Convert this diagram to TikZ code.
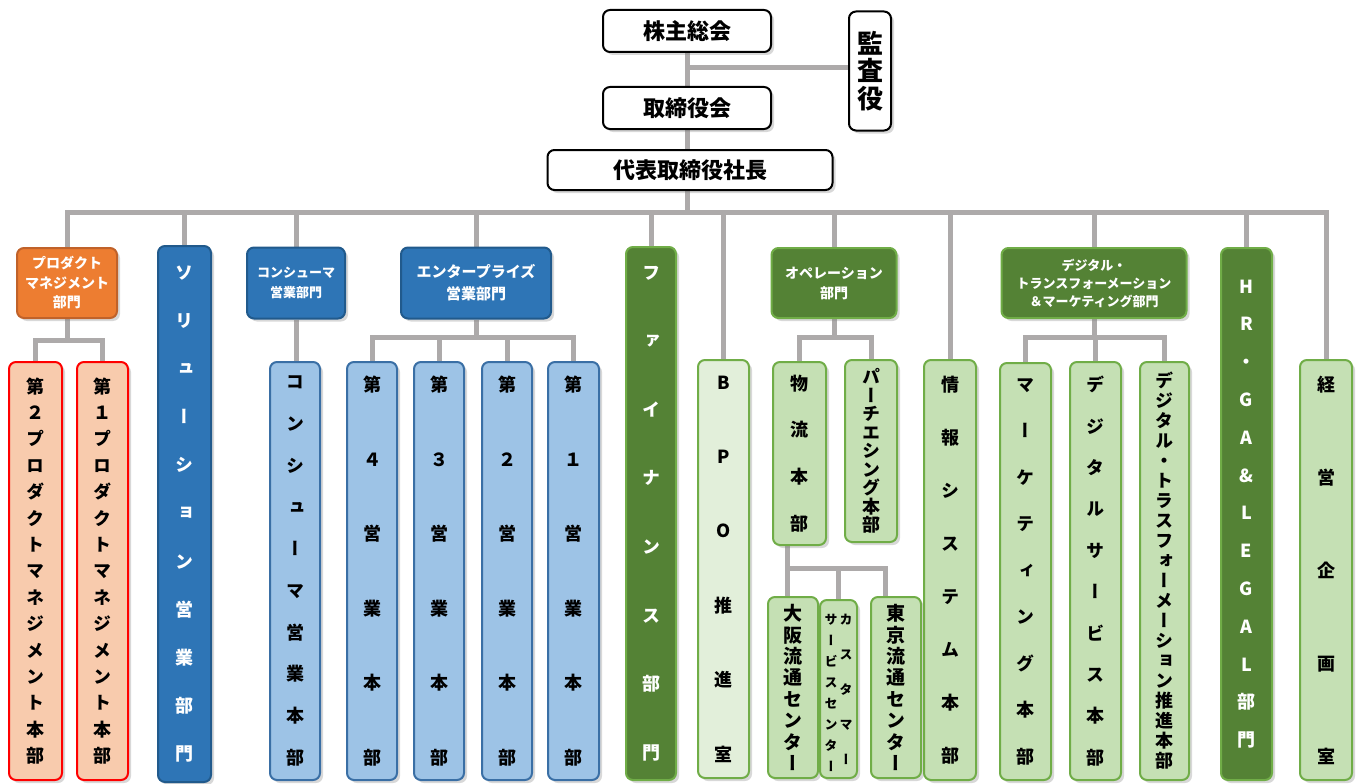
\documentclass[tikz,border=0pt]{standalone}
\usepackage{fontspec}
\usepackage{graphicx}
\setmainfont{Noto Sans CJK JP}
\newfontfamily\vfont{Noto Sans CJK JP}[RawFeature={+vert}]
\usetikzlibrary{positioning,shadows,backgrounds}
\definecolor{connc}{HTML}{ADAAAA}
\definecolor{orgfill}{HTML}{ED7D31}
\definecolor{orgline}{HTML}{C0622A}
\definecolor{peach}{HTML}{F8CBAD}
\definecolor{dblue}{HTML}{2E75B6}
\definecolor{dblueline}{HTML}{215A8C}
\definecolor{lblue}{HTML}{9DC3E6}
\definecolor{lblueline}{HTML}{3A6FA5}
\definecolor{dgreen}{HTML}{548235}
\definecolor{gline}{HTML}{70AD47}
\definecolor{lgreen}{HTML}{C5E0B4}
\definecolor{pgreen}{HTML}{E2EFDA}
\newcommand\vcol[2]{{\fontsize{13}{#1}\selectfont\begin{tabular}[t]{@{}c@{}}#2\end{tabular}}}

\begin{document}
\begin{tikzpicture}[x=1pt,y=-1pt,
  box/.style={rounded corners=7pt,line width=2pt,inner sep=0pt,align=center,
    drop shadow={shadow xshift=3pt,shadow yshift=-3pt,opacity=0.3}},
  sz/.style 2 args={minimum width=#1pt,minimum height=#2pt},
  head/.style={box,draw=black,fill=white,font=\bfseries\fontsize{22}{26}\selectfont},
  orgdept/.style={box,draw=orgline,fill=orgfill,text=white},
  orgunit/.style={box,draw=red,fill=peach},
  bluedept/.style={box,draw=dblueline,fill=dblue,text=white},
  blueunit/.style={box,draw=lblueline,fill=lblue},
  greendept/.style={box,draw=gline,fill=dgreen,text=white},
  greenunit/.style={box,draw=gline,fill=lgreen},
  paleunit/.style={box,draw=gline,fill=pgreen},
  ht/.style 2 args={font=\bfseries\fontsize{#1}{#2}\selectfont},
  vt/.style={font=\vfont\bfseries\fontsize{18}{#1}\selectfont},
  conn/.style={draw=connc,line width=5pt}]
\useasboundingbox (0,0) rectangle (1361,784);

\node (kabu) at (687,31)[head,sz={168}{42}] {株主総会};
\node (tori) at (687,108)[head,sz={168}{42}] {取締役会};
\node (ceo) at (690,170)[head,sz={285}{40}] {代表取締役社長};
\node (kansa) at (870,71)[head,sz={42}{119},font=\bfseries\fontsize{26}{27.5}\selectfont] {監\\査\\役};

\node (prod) at (67,283)[orgdept,sz={100}{70},ht={14}{19.5}] {プロダクト\\マネジメント\\部門};
\node (p2) at (35.5,571)[orgunit,sz={53}{418},vt=26.4] {第\\２\\プ\\ロ\\ダ\\ク\\ト\\マ\\ネ\\ジ\\メ\\ン\\ト\\本\\部};
\node (p1) at (102.5,571)[orgunit,sz={51}{418},vt=26.4] {第\\１\\プ\\ロ\\ダ\\ク\\ト\\マ\\ネ\\ジ\\メ\\ン\\ト\\本\\部};

\node (sol) at (184.5,514)[bluedept,sz={53}{536},vt=48.1] {ソ\\リ\\ュ\\ー\\シ\\ョ\\ン\\営\\業\\部\\門};
\node (cons) at (296,283)[bluedept,sz={98}{71},ht={13}{20}] {コンシューマ\\営業部門};
\node (cns) at (295,571)[blueunit,sz={50}{418},vt=41.7] {コ\\ン\\シ\\ュ\\ー\\マ\\営\\業\\本\\部};
\node (ent) at (476,283)[bluedept,sz={150}{71},ht={15}{22}] {エンタープライズ\\営業部門};
\node (e4) at (372,571)[blueunit,sz={50}{418},vt=74.6] {第\\４\\営\\業\\本\\部};
\node (e3) at (439,571)[blueunit,sz={50}{418},vt=74.6] {第\\３\\営\\業\\本\\部};
\node (e2) at (507,571)[blueunit,sz={50}{418},vt=74.6] {第\\２\\営\\業\\本\\部};
\node (e1) at (573.5,571)[blueunit,sz={51}{418},vt=74.6] {第\\１\\営\\業\\本\\部};

\node (fin) at (651,513.5)[greendept,sz={50}{533},vt=68.6] {フ\\ァ\\イ\\ナ\\ン\\ス\\部\\門};
\node (bpo) at (723.5,569)[paleunit,sz={51}{418},vt=74.4] {B\\P\\O\\推\\進\\室};
\node (ope) at (834,283)[greendept,sz={125}{70},ht={14}{20}] {オペレーション\\部門};
\node (logi) at (799.5,453.5)[greenunit,sz={53}{183},vt=46.7] {物\\流\\本\\部};
\node (purch) at (871,451)[greenunit,sz={52}{182},vt=18.5] {パ\\ー\\チ\\エ\\シ\\ン\\グ\\本\\部};
\node (osaka) at (793,687.5)[greenunit,sz={50}{181},font=\vfont\bfseries\fontsize{19}{21.4}\selectfont] {大\\阪\\流\\通\\セ\\ン\\タ\\ー};
\node (cust) at (838.5,689)[greenunit,sz={37}{178},font=\vfont\bfseries] {\vcol{21}{サ\\ー\\ビ\\ス\\セ\\ン\\タ\\ー}\hspace{2pt}\vcol{35}{カ\\ス\\タ\\マ\\ー}};
\node (tokyo) at (896,687.5)[greenunit,sz={50}{181},font=\vfont\bfseries\fontsize{19}{21.4}\selectfont] {東\\京\\流\\通\\セ\\ン\\タ\\ー};
\node (info) at (950,570)[greenunit,sz={52}{420},vt=53] {情\\報\\シ\\ス\\テ\\ム\\本\\部};

\node (dx) at (1094,283)[greendept,sz={185}{70},ht={13}{18}] {デジタル・\\トランスフォーメーション\\＆マーケティング部門};
\node (mkt) at (1025.5,571.5)[greenunit,sz={51}{417},vt=46.5] {マ\\ー\\ケ\\テ\\ィ\\ン\\グ\\本\\部};
\node (dsvc) at (1095.5,571)[greenunit,sz={51}{418},vt=41.4] {デ\\ジ\\タ\\ル\\サ\\ー\\ビ\\ス\\本\\部};
\node (dxp) at (1164.5,571)[greenunit,sz={49}{418},vt=20] {デ\\ジ\\タ\\ル\\・\\ト\\ラ\\ス\\フ\\ォ\\ー\\メ\\ー\\シ\\ョ\\ン\\推\\進\\本\\部};
\node (hr) at (1246.5,514)[greendept,sz={51}{532},vt=37.8] {H\\R\\・\\G\\A\\\&\\L\\E\\G\\A\\L\\部\\門};
\node (keiei) at (1326,570)[greenunit,sz={52}{420},vt=93] {経\\営\\企\\画\\室};

\coordinate (busL) at (67,212);
\coordinate (kj) at (687,68);
\coordinate (pj) at (67,340);
\coordinate (ej) at (476,337);
\coordinate (oj) at (834,337);
\coordinate (lj) at (787,568);
\coordinate (dj) at (1094,337);

\begin{scope}[on background layer]
\fill[white] (0,0) rectangle (1361,784);
\draw[conn] (kabu) -- (tori);
\draw[conn] (kj) -- (kj -| kansa.west);
\draw[conn] (tori.south) -- (tori.south |- ceo.north);
\draw[conn] (ceo.south -| tori.south) -- (busL -| tori.south);
\draw[conn] (prod.north) |- (keiei.north |- busL) -- (keiei.north);
\foreach \n in {sol,cons,ent,fin,bpo,ope,info,dx,hr}
  \draw[conn] (\n.north) -- (\n.north |- busL);
\draw[conn] (prod.south) -- (pj);
\draw[conn] (p2.north) |- (pj) -| (p1.north);
\draw[conn] (cons.south) -- (cons.south |- cns.north);
\draw[conn] (ent.south) -- (ej);
\draw[conn] (e4.north) |- (ej) -| (e1.north);
\foreach \n in {e3,e2}
  \draw[conn] (\n.north) -- (\n.north |- ej);
\draw[conn] (ope.south) -- (oj);
\draw[conn] (logi.north) |- (oj) -| (purch.north);
\draw[conn] (logi.south -| lj) -- (osaka.north -| lj);
\draw[conn] (lj) -| (cust.north);
\draw[conn] (lj) -| ([xshift=-11pt]tokyo.north);
\draw[conn] (dx.south) -- (dj);
\draw[conn] (mkt.north) |- (dj) -| (dxp.north);
\draw[conn] (dsvc.north) -- (dsvc.north |- dj);
\end{scope}
\end{tikzpicture}
\end{document}
